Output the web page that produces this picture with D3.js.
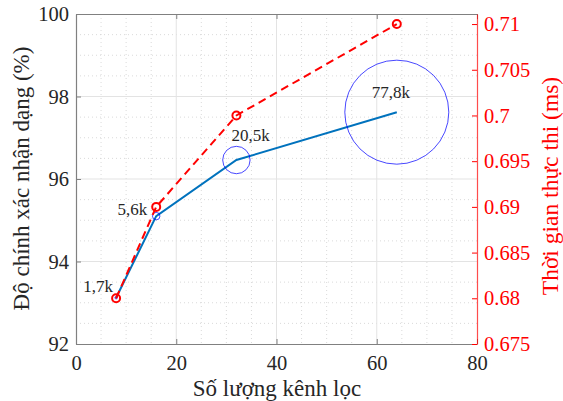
<!DOCTYPE html>
<html><head><meta charset="utf-8">
<script src="https://cdn.jsdelivr.net/npm/d3@7"></script>
<style>body{margin:0;background:#fff}svg{display:block}</style>
</head><body><svg id="c" width="563" height="401" style="font-family:'Liberation Serif'"></svg>
<script>
const filters = [8, 16, 32, 64];
const accuracy = [93.12, 95.1, 96.46, 97.62];
const execTime = [0.68, 0.69, 0.70, 0.71];
const params = [1.7, 5.6, 20.5, 77.8];
const paramLabels = ["1,7k", "5,6k", "20,5k", "77,8k"];
const xTicks = [0, 20, 40, 60, 80];
const yLeftTicks = [92, 94, 96, 98, 100];
const yRightTicks = [0.675, 0.68, 0.685, 0.69, 0.695, 0.7, 0.705, 0.71];

(function () {
const FF = "'Liberation Serif'";
const svg = d3.select("#c");
const L = 76, R = 477, T = 14, B = 344;
const x = d3.scaleLinear().domain([0, 80]).range([L, R]);
const yL = d3.scaleLinear().domain([92, 100]).range([B, T]);
const yR = d3.scaleLinear().domain([0.675, 0.7111]).range([B, T]);
const rS = d3.scaleLinear().domain([0, 77.8]).range([0, 52]);
const ink = "#262626";

const g = svg.append("g");
d3.range(0, 80.01, 5).filter(v => v % 20 !== 0).forEach(v => {
  g.append("line").attr("x1", x(v)).attr("x2", x(v)).attr("y1", T).attr("y2", B)
   .attr("stroke", "#d0d0d0").attr("stroke-width", 0.8).attr("stroke-dasharray", "1,3");
});
d3.range(92, 100.01, 0.5).filter(v => v % 2 !== 0).forEach(v => {
  g.append("line").attr("x1", L).attr("x2", R).attr("y1", yL(v)).attr("y2", yL(v))
   .attr("stroke", "#d0d0d0").attr("stroke-width", 0.8).attr("stroke-dasharray", "1,3");
});
xTicks.slice(1, -1).forEach(v => {
  g.append("line").attr("x1", x(v)).attr("x2", x(v)).attr("y1", T).attr("y2", B)
   .attr("stroke", "#e3e3e3").attr("stroke-width", 1);
});
yLeftTicks.slice(1, -1).forEach(v => {
  g.append("line").attr("x1", L).attr("x2", R).attr("y1", yL(v)).attr("y2", yL(v))
   .attr("stroke", "#e3e3e3").attr("stroke-width", 1);
});

const axCol = "#808080";
const axB = svg.append("g").attr("transform", `translate(0,${B})`)
  .call(d3.axisBottom(x).tickValues(xTicks).tickSizeInner(-5).tickSizeOuter(0).tickPadding(11));
const axT = svg.append("g").attr("transform", `translate(0,${T})`)
  .call(d3.axisTop(x).tickValues(xTicks).tickSizeInner(-5).tickSizeOuter(0).tickFormat(""));
const axL = svg.append("g").attr("transform", `translate(${L},0)`)
  .call(d3.axisLeft(yL).tickValues(yLeftTicks).tickSizeInner(-5).tickSizeOuter(0).tickPadding(7));
[axB, axT, axL].forEach(a => {
  a.attr("font-family", null);
  a.select(".domain").attr("stroke", axCol).attr("stroke-width", 1.2);
  a.selectAll(".tick line").attr("stroke", axCol);
  a.selectAll("text").attr("fill", ink).style("font-size", "20.5px").style("font-family", FF);
});
const axR = svg.append("g").attr("transform", `translate(${R},0)`)
  .call(d3.axisRight(yR).tickValues(yRightTicks).tickSizeInner(-5).tickSizeOuter(0).tickPadding(7)
    .tickFormat(d => String(+d.toFixed(3))));
axR.attr("font-family", null);
axR.select(".domain").attr("stroke", "#ff0000").attr("stroke-width", 1.2).attr("stroke-opacity", 0.7);
axR.selectAll(".tick line").attr("stroke", "#ff0000");
axR.selectAll("text").attr("fill", "#ff0000").style("font-size", "20.5px").style("font-family", FF);

const data = filters.map((f, i) => ({f, a: accuracy[i], t: execTime[i], p: params[i], lab: paramLabels[i]}));
svg.append("path").datum(data)
  .attr("d", d3.line().x(d => x(d.f)).y(d => yL(d.a)))
  .attr("fill", "none").attr("stroke", "#0072BD").attr("stroke-width", 2);
svg.selectAll(".bub").data(data).enter().append("circle")
  .attr("cx", d => x(d.f)).attr("cy", d => yL(d.a)).attr("r", d => rS(d.p))
  .attr("fill", "none").attr("stroke", "#0000ff").attr("stroke-width", 0.9).attr("stroke-opacity", 0.8);

svg.append("path").datum(data)
  .attr("d", d3.line().x(d => x(d.f)).y(d => yR(d.t)))
  .attr("fill", "none").attr("stroke", "#ff0000").attr("stroke-width", 2).attr("stroke-dasharray", "8,5");
svg.selectAll(".rm").data(data).enter().append("circle")
  .attr("cx", d => x(d.f)).attr("cy", d => yR(d.t)).attr("r", 4)
  .attr("fill", "none").attr("stroke", "#ff0000").attr("stroke-width", 2);

const labOff = [[-3, -6, "end"], [-9, -1, "end"], [-5, -19, "start"], [-6, -14, "middle"]];
svg.selectAll(".lab").data(data).enter().append("text")
  .attr("x", (d, i) => x(d.f) + labOff[i][0])
  .attr("y", (d, i) => yL(d.a) + labOff[i][1])
  .attr("text-anchor", (d, i) => labOff[i][2])
  .style("font-size", "17px").style("font-family", FF).attr("fill", ink).text(d => d.lab);

svg.append("text").attr("x", 277).attr("y", 396).attr("text-anchor", "middle")
  .style("font-size", "23px").style("font-family", FF).attr("fill", ink).text("Số lượng kênh lọc");
svg.append("text").attr("transform", `translate(29,178.5) rotate(-90)`).attr("text-anchor", "middle")
  .style("font-size", "23px").style("font-family", FF).attr("fill", ink).text("Độ chính xác nhận dạng (%)");
svg.append("text").attr("transform", `translate(558,186) rotate(-90)`).attr("text-anchor", "middle")
  .style("font-size", "23.5px").style("font-family", FF).attr("fill", "#ff0000").text("Thời gian thực thi (ms)");
})();
</script></body></html>
